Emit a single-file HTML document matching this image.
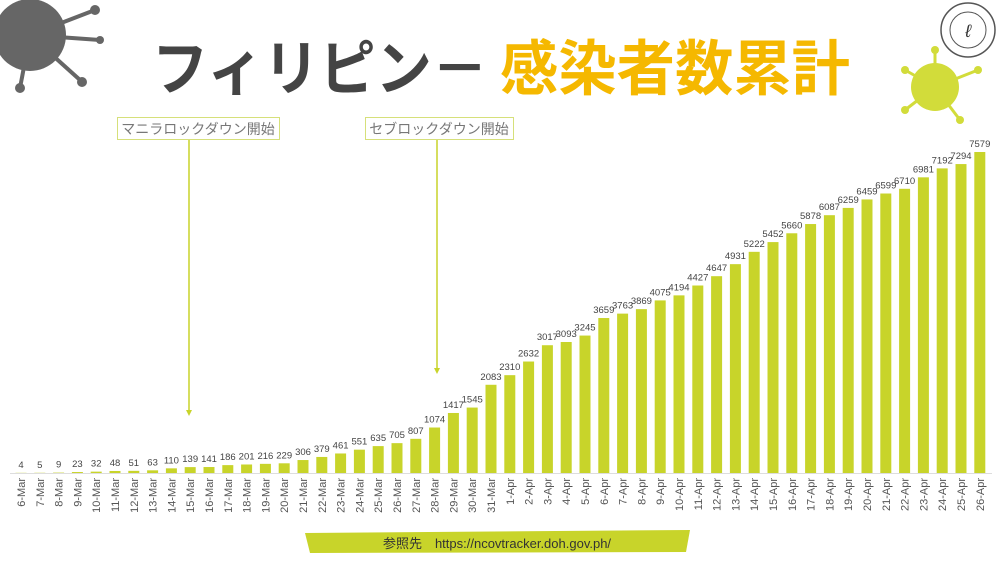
<!DOCTYPE html>
<html><head><meta charset="utf-8"><style>
body{margin:0;width:1000px;height:562px;background:#fff;overflow:hidden;font-family:"Liberation Sans","Noto Sans CJK JP",sans-serif}
</style></head><body>
<svg width="1000" height="562" viewBox="0 0 1000 562" xmlns="http://www.w3.org/2000/svg" font-family="Liberation Sans, Noto Sans CJK JP, sans-serif">
<g fill="#666">
<g stroke="#666" stroke-width="4"><line x1="30" y1="35" x2="95" y2="10"/><line x1="30" y1="35" x2="80" y2="80"/><line x1="30" y1="35" x2="20" y2="88"/><line x1="30" y1="35" x2="100" y2="40"/></g>
<circle cx="30" cy="35" r="36"/>
<circle cx="95" cy="10" r="5"/><circle cx="82" cy="82" r="5"/><circle cx="20" cy="88" r="5"/><circle cx="100" cy="40" r="4"/>
</g>
<g fill="#d2dc3a">
<g stroke="#d2dc3a" stroke-width="3"><line x1="935" y1="87" x2="905" y2="70"/><line x1="935" y1="87" x2="978" y2="70"/><line x1="935" y1="87" x2="960" y2="120"/><line x1="935" y1="87" x2="905" y2="110"/><line x1="935" y1="87" x2="935" y2="50"/></g>
<circle cx="935" cy="87" r="24"/>
<circle cx="905" cy="70" r="4"/><circle cx="978" cy="70" r="4"/><circle cx="960" cy="120" r="4"/><circle cx="905" cy="110" r="4"/><circle cx="935" cy="50" r="4"/>
</g>
<circle cx="968" cy="30" r="27" fill="#fff" stroke="#555" stroke-width="1.5"/>
<circle cx="968" cy="30" r="18" fill="none" stroke="#555" stroke-width="1"/>
<text x="968" y="37" font-size="18" text-anchor="middle" fill="#333" font-style="italic">ℓ</text>
<text x="152" y="90" font-size="60" font-weight="bold" fill="#444" textLength="336" lengthAdjust="spacingAndGlyphs">フィリピン－</text>
<text x="500" y="90" font-size="60" font-weight="bold" fill="#f5b800" textLength="350" lengthAdjust="spacingAndGlyphs">感染者数累計</text>
<rect x="117.5" y="117.5" width="162" height="22" fill="#fff" stroke="#d6e07a"/>
<text x="198" y="134" font-size="14" text-anchor="middle" fill="#777">マニラロックダウン開始</text>
<line x1="189" y1="140" x2="189" y2="410" stroke="#c8d42a" stroke-width="1.5"/>
<polygon points="186,410 192,410 189,416" fill="#c8d42a"/>
<rect x="365.5" y="117.5" width="148" height="22" fill="#fff" stroke="#d6e07a"/>
<text x="439" y="134" font-size="14" text-anchor="middle" fill="#777">セブロックダウン開始</text>
<line x1="437" y1="140" x2="437" y2="368" stroke="#c8d42a" stroke-width="1.5"/>
<polygon points="434,368 440,368 437,374" fill="#c8d42a"/>
<line x1="10" y1="473.5" x2="992" y2="473.5" stroke="#ddd" stroke-width="1"/>
<g id="bars"></g>
<path d="M305 533 L690 530 L686 552 L310 553 Z" fill="#c8d42a"/>
<text x="497" y="548" font-size="13" text-anchor="middle" fill="#333">参照先　https://ncovtracker.doh.gov.ph/</text>
</svg>
<script>
var v=[4,5,9,23,32,48,51,63,110,139,141,186,201,216,229,306,379,461,551,635,705,807,1074,1417,1545,2083,2310,2632,3017,3093,3245,3659,3763,3869,4075,4194,4427,4647,4931,5222,5452,5660,5878,6087,6259,6459,6599,6710,6981,7192,7294,7579];
var g=document.getElementById('bars'),s='';
for(var i=0;i<v.length;i++){
 var cx=21+i*18.8,h=v[i]*321/7579,y=473-h;
 var d=new Date(2020,2,6+i);
 var lab=d.getDate()+'-'+(d.getMonth()==2?'Mar':'Apr');
 s+='<rect x="'+(cx-5.5)+'" y="'+y+'" width="11" height="'+h+'" fill="#c8d42a"/>';
 s+='<text x="'+cx+'" y="'+(y-5)+'" font-size="9.5" text-anchor="middle" fill="#444">'+v[i]+'</text>';
 s+='<text transform="translate('+(cx+4)+',478) rotate(-90)" font-size="11" text-anchor="end" fill="#555">'+lab+'</text>';
}
g.innerHTML=s;
</script>
</body></html>
